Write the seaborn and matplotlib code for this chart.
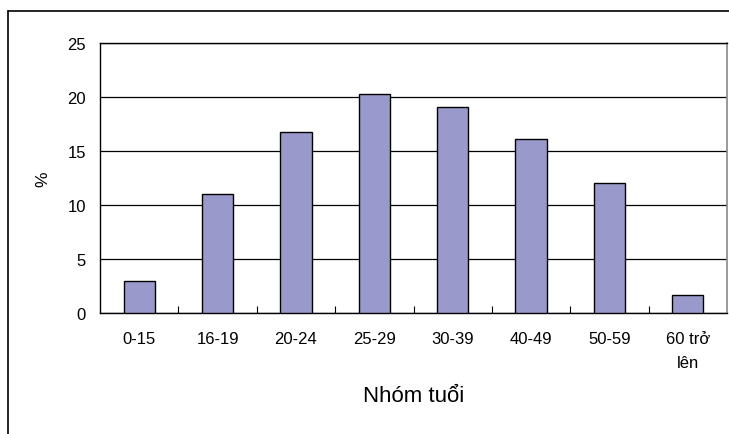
import matplotlib
matplotlib.use("Agg")
import matplotlib.pyplot as plt
from matplotlib.lines import Line2D
import seaborn as sns
import pandas as pd

age_groups = ["0-15", "16-19", "20-24", "25-29", "30-39", "40-49", "50-59", "60 trở\nlên"]
percent = [3.0, 11.0, 16.8, 20.3, 19.1, 16.1, 12.0, 1.7]
y_ticks = [0, 5, 10, 15, 20, 25]

sns.set_theme(style="white")
plt.rcParams["font.family"] = ["Liberation Sans", "DejaVu Sans"]

df = pd.DataFrame({"group": age_groups, "pct": percent})

fig = plt.figure(figsize=(7.29, 4.35), dpi=100)
ax = fig.add_axes([100 / 729, 1 - 314 / 435, 627 / 729, 270 / 435])

sns.barplot(data=df, x="group", y="pct", ax=ax, color="#9999CC", saturation=1,
            edgecolor="black", linewidth=1.0, width=0.4, zorder=3)

ax.set_ylim(0, 25)
ax.set_xlim(-0.5, len(age_groups) - 0.5)
ax.set_yticks(y_ticks)
ax.yaxis.grid(True, color="black", linewidth=0.9, zorder=0)
ax.set_axisbelow(True)

# tick marks sit between categories, pointing inward
ax.set_xticks([i + 0.5 for i in range(len(age_groups) - 1)], minor=True)
ax.tick_params(axis="x", which="minor", direction="in", length=5, width=0.8, color="black", bottom=True)
ax.tick_params(axis="x", which="major", length=0, pad=13, labelsize=12, colors="black")
ax.tick_params(axis="y", length=0, pad=10, labelsize=12, colors="black")
ax.set_xticklabels(age_groups, linespacing=1.75, va="top")

for side in ["left", "bottom", "top"]:
    ax.spines[side].set_color("black")
    ax.spines[side].set_linewidth(1.0)
ax.spines["right"].set_color("#888888")
ax.spines["right"].set_linewidth(1.2)

ax.set_xlabel("Nhóm tuổi", fontsize=16, color="black", labelpad=11)
ax.set_ylabel("%", fontsize=12.5, color="black", labelpad=12)

# outer chart frame
fig.add_artist(Line2D([7.5 / 729, 7.5 / 729], [0, 1 - 12 / 435], transform=fig.transFigure,
                      color="black", linewidth=1.2))
fig.add_artist(Line2D([7.5 / 729, 1], [1 - 12 / 435, 1 - 12 / 435], transform=fig.transFigure,
                      color="black", linewidth=1.2))

fig.savefig("out.png", dpi=100, facecolor="white")
